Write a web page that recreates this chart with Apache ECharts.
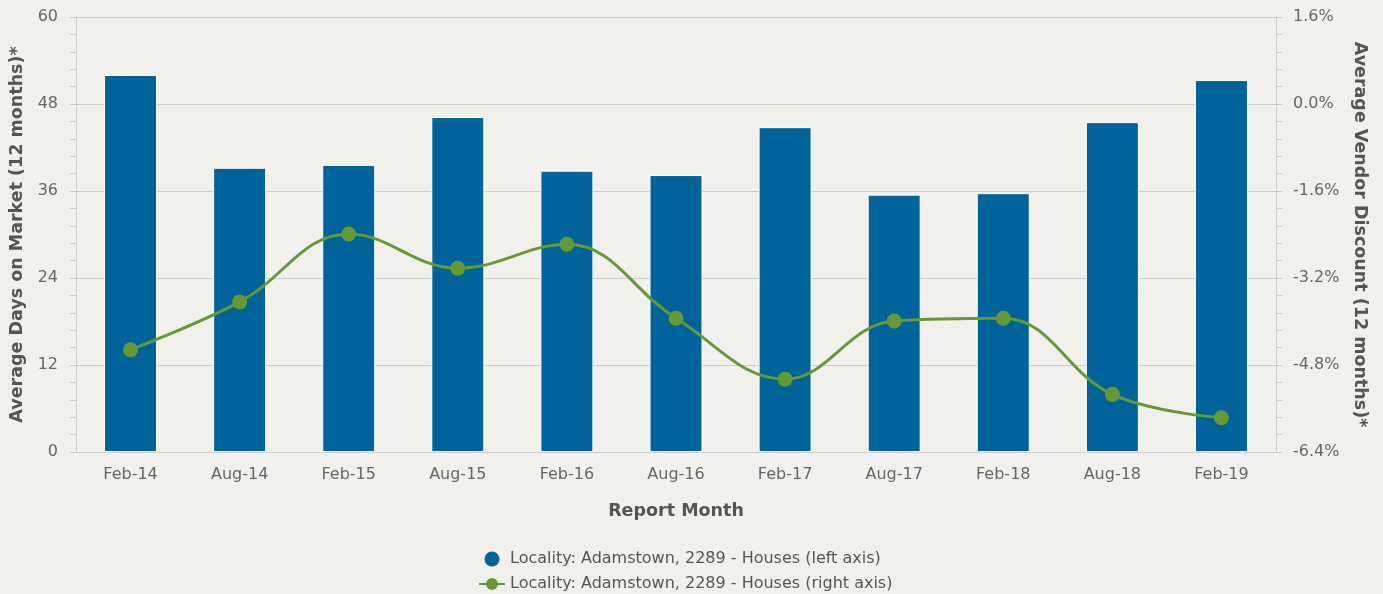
<!DOCTYPE html>
<html>
<head>
<meta charset="utf-8">
<script src="https://cdn.jsdelivr.net/npm/echarts@6/dist/echarts.min.js"></script>
<style>
  html, body { margin: 0; padding: 0; background: #f1f0ec; }
  #chart { width: 1383px; height: 594px; }
</style>
</head>
<body>
<div id="chart"></div>
<script>
// Report months along the x axis
const months = ['Feb-14', 'Aug-14', 'Feb-15', 'Aug-15', 'Feb-16', 'Aug-16',
                'Feb-17', 'Aug-17', 'Feb-18', 'Aug-18', 'Feb-19'];

// Average days on market (left axis)
const daysOnMarket = [52.0, 39.2, 39.6, 46.2, 38.8, 38.2, 44.8, 35.5, 35.7, 45.5, 51.3];

// Average vendor discount in % (right axis)
const vendorDiscount = [-4.52, -3.64, -2.39, -3.02, -2.58, -3.94, -5.06, -3.99, -3.94, -5.34, -5.77];

const barName = 'Locality: Adamstown, 2289 - Houses (left axis)';
const lineName = 'Locality: Adamstown, 2289 - Houses (right axis)';

const FONT = 'DejaVu Sans';
const labelColor = '#666666';
const titleColor = '#555555';

const chart = echarts.init(document.getElementById('chart'), null, { renderer: 'canvas' });

chart.setOption({
  backgroundColor: '#f1f0ec',
  animation: false,
  textStyle: { fontFamily: FONT },
  grid: { left: 76, right: 107, top: 17, bottom: 142, containLabel: false, outerBoundsMode: 'none' },
  legend: {
    orient: 'vertical',
    left: 478,
    top: 551,
    padding: 0,
    itemGap: 9,
    itemWidth: 26,
    itemHeight: 15,
    textStyle: { fontFamily: FONT, fontSize: 16, color: '#555555' },
    data: [
      { name: barName, icon: 'circle', itemStyle: { borderWidth: 0 } },
      { name: lineName }
    ]
  },
  xAxis: {
    type: 'category',
    data: months,
    name: 'Report Month',
    nameLocation: 'middle',
    nameGap: 50,
    nameTextStyle: { fontFamily: FONT, fontSize: 17.5, fontWeight: 'bold', color: titleColor },
    axisLine: { lineStyle: { color: '#cccccc', width: 1 } },
    axisTick: { alignWithLabel: true, length: 10, lineStyle: { color: '#ccd6eb' } },
    axisLabel: { fontFamily: FONT, fontSize: 16, color: labelColor, margin: 15 }
  },
  yAxis: [
    {
      type: 'value',
      min: 0,
      max: 60,
      interval: 12,
      position: 'left',
      name: 'Average Days on Market (12 months)*',
      nameLocation: 'middle',
      nameGap: 49,
      nameTextStyle: { fontFamily: FONT, fontSize: 17.5, fontWeight: 'bold', color: titleColor },
      axisLine: { show: true, lineStyle: { color: '#cccccc' } },
      axisTick: { show: true, length: 6, lineStyle: { color: '#cccccc' } },
      minorTick: { show: true, splitNumber: 5, length: 6, lineStyle: { color: '#cccccc' } },
      axisLabel: { fontFamily: FONT, fontSize: 16, color: labelColor, margin: 18 },
      splitLine: { show: true, lineStyle: { color: '#cccccc', width: 1 } }
    },
    {
      type: 'value',
      min: -6.4,
      max: 1.6,
      interval: 1.6,
      position: 'right',
      name: 'Average Vendor Discount (12 months)*',
      nameLocation: 'middle',
      nameGap: 73,
      nameRotate: -90,
      nameTextStyle: { fontFamily: FONT, fontSize: 17.5, fontWeight: 'bold', color: titleColor },
      axisLine: { show: true, lineStyle: { color: '#cccccc' } },
      axisTick: { show: true, length: 6, lineStyle: { color: '#cccccc' } },
      minorTick: { show: true, splitNumber: 5, length: 6, lineStyle: { color: '#cccccc' } },
      axisLabel: {
        fontFamily: FONT, fontSize: 16, color: labelColor, margin: 17,
        formatter: v => (Math.abs(v) < 1e-9 ? 0 : v).toFixed(1) + '%'
      },
      splitLine: { show: false }
    }
  ],
  series: [
    {
      name: barName,
      type: 'bar',
      yAxisIndex: 0,
      data: daysOnMarket,
      barWidth: 53,
      itemStyle: { color: '#00649a', borderColor: '#ffffff', borderWidth: 1 }
    },
    {
      name: lineName,
      type: 'line',
      yAxisIndex: 1,
      data: vendorDiscount,
      smooth: 0.4,
      symbol: 'circle',
      symbolSize: 15,
      lineStyle: { color: '#669933', width: 3 },
      itemStyle: { color: '#669933' },
      z: 3
    }
  ]
});
</script>
</body>
</html>
